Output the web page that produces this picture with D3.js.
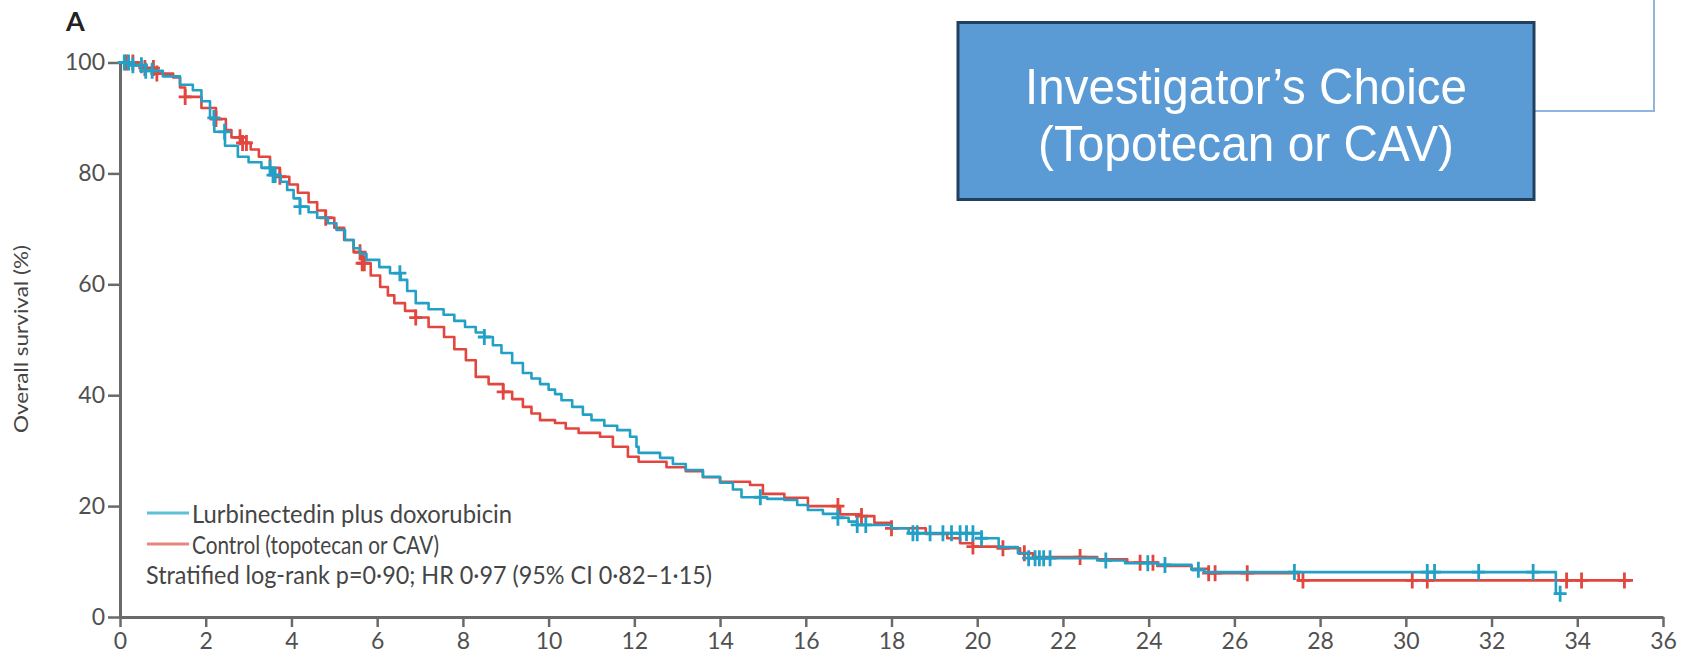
<!DOCTYPE html>
<html><head><meta charset="utf-8">
<script src="https://cdn.jsdelivr.net/npm/d3@7"></script>
<style>
html,body{margin:0;padding:0;background:#fff;}
svg{display:block;}
</style></head>
<body>
<svg id="chart" width="1683" height="659"></svg>
<script>
// ---- data ----
const xTicks = [0,2,4,6,8,10,12,14,16,18,20,22,24,26,28,30,32,34,36];
const yTicks = [0,20,40,60,80,100];

// [months, survival %]
const lurbiCurve = [[0,100],[0.3,99.5],[0.6,98.5],[1.0,97.5],[1.4,96],[1.7,95],[1.9,93],[2.1,90],[2.2,87.5],[2.45,85],[2.75,83],[3.0,82],[3.3,81],[3.55,79.7],[3.75,78.5],[3.9,77],[4.05,75.5],[4.2,74],[4.4,73],[4.6,72],[4.85,71],[5.05,69.8],[5.25,68],[5.45,66.5],[5.6,65.5],[5.75,64.4],[6.05,63.1],[6.3,62],[6.55,60.8],[6.7,58.8],[6.9,56.6],[7.2,55.5],[7.55,54.5],[7.8,53.4],[8.05,52.3],[8.3,51.3],[8.5,50.5],[8.7,49],[8.9,47.6],[9.15,45.8],[9.4,44],[9.6,43],[9.8,42],[10.0,41],[10.15,40.2],[10.3,39.1],[10.55,37.9],[10.8,36.5],[11.0,35.5],[11.3,34.5],[11.6,33.7],[11.9,32.5],[12.05,30.7],[12.1,29.6],[12.6,28.7],[12.9,27.6],[13.2,26.5],[13.6,25.3],[14.0,24.2],[14.3,23],[14.5,21.6],[15.1,21.3],[15.5,21.1],[15.8,20.2],[16.05,19.3],[16.4,18.6],[16.75,17.9],[17.0,17.2],[17.2,16.6],[18.0,16],[18.4,15.1],[20.1,14.2],[20.5,12.6],[20.95,11.5],[21.2,10.6],[22.8,10.2],[23.45,9.7],[24.2,9.4],[25.0,8.5],[25.3,8.1],[33.5,4.2],[33.65,4.2]];
const controlCurve = [[0,100],[0.5,99],[0.86,98],[1.24,97.3],[1.4,95.5],[1.52,93.8],[1.9,91.8],[2.24,89.8],[2.47,87.8],[2.6,86.5],[2.86,85.5],[3.05,84.3],[3.24,83],[3.5,81],[3.73,79.4],[3.95,78],[4.15,76.5],[4.4,74.8],[4.6,73.3],[4.8,72],[5.0,70.2],[5.23,68],[5.45,65.8],[5.65,63.8],[5.85,61.6],[6.07,59.5],[6.25,58],[6.4,56.6],[6.65,55.2],[6.9,54],[7.2,52.3],[7.56,50.5],[7.8,48.3],[8.07,46.3],[8.3,43.3],[8.6,42],[8.94,40.6],[9.15,39.3],[9.4,37.9],[9.6,36.7],[9.8,35.5],[10.15,35],[10.4,34],[10.7,33.2],[11.2,32.5],[11.5,30.7],[11.85,28.9],[12.1,28],[12.75,27],[13.2,26.3],[13.6,25.2],[14.0,24.4],[14.7,23.8],[15.0,22.2],[15.5,21.5],[16.05,20.0],[16.8,18.5],[17.3,18.2],[17.6,17],[18.0,16],[18.8,15],[19.3,14.2],[19.6,13.3],[19.9,12.7],[20.6,12.4],[21.0,11.5],[21.3,10.8],[22.8,10.4],[23.5,9.8],[24.2,9.2],[25.0,8.7],[25.4,7.9],[27.5,6.6],[35.3,6.6]];

// censoring times (months)
const lurbiCensor = [0.1,0.2,0.3,0.5,0.6,0.75,2.19,2.44,3.5,3.57,3.62,4.2,6.53,8.5,14.94,16.75,17.2,17.4,18.5,18.6,18.9,19.2,19.4,19.6,19.75,19.9,20.1,21.2,21.35,21.45,21.55,21.7,23.0,23.98,24.38,25.16,27.4,30.5,30.67,31.7,32.97,33.6];
const controlCensor = [0.15,0.3,0.58,0.78,0.86,1.52,2.24,2.8,2.86,2.95,3.73,4.8,5.6,5.65,5.7,6.9,8.94,16.75,17.3,18.0,19.9,20.6,21.1,22.4,23.8,24.1,25.4,25.55,26.3,27.6,30.15,30.5,33.75,34.1,35.1];

const seriesNames = ["Lurbinectedin plus doxorubicin","Control (topotecan or CAV)"];
const statText = "Stratified log-rank p=0·90; HR 0·97 (95% CI 0·82–1·15)";
const boxLines = ["Investigator’s Choice","(Topotecan or CAV)"];

// ---- drawing ----
const svg = d3.select("#chart");
const x = d3.scaleLinear().domain([0,36]).range([120,1663]);
const y = d3.scaleLinear().domain([0,100]).range([617,62.5]);

const blue = "#22a0c6", red = "#e2463e";
const axisCol = "#6a6a6a", txtCol = "#454545";
const FONT = "Lato, 'Open Sans', sans-serif";

// axes
const gx = svg.append("g").attr("transform",`translate(0,${y(0)})`)
  .call(d3.axisBottom(x).tickValues(xTicks).tickSize(10).tickSizeOuter(0).tickPadding(6));
const gy = svg.append("g").attr("transform",`translate(${x(0)},0)`)
  .call(d3.axisLeft(y).tickValues(yTicks).tickSize(12).tickSizeOuter(0).tickPadding(3));
[gx,gy].forEach(g=>{
  g.select(".domain").attr("stroke",axisCol).attr("stroke-width",3);
  g.selectAll(".tick line").attr("stroke",axisCol).attr("stroke-width",2.5);
  g.selectAll(".tick text").attr("fill","#505050").style("font-family",FONT).style("font-size","23px");
});

// curves
const line = d3.line().x(d=>x(d[0])).y(d=>y(d[1])).curve(d3.curveStepAfter);
function survAt(curve,t){
  const i = d3.bisectRight(curve.map(d=>d[0]), t) - 1;
  return curve[Math.max(0,i)][1];
}
function drawSeries(curve, censor, col){
  svg.append("path").datum(curve).attr("d",line)
    .attr("fill","none").attr("stroke",col).attr("stroke-width",2.6).attr("stroke-linejoin","round");
  svg.append("g").selectAll("path").data(censor).join("path")
    .attr("d",t=>{const cx=x(t), cy=y(survAt(curve,t)); return `M${cx-6.5},${cy}H${cx+6.5}M${cx},${cy-8}V${cy+8}`;})
    .attr("stroke",col).attr("stroke-width",2.8).attr("fill","none");
}
drawSeries(controlCurve, controlCensor, red);
drawSeries(lurbiCurve, lurbiCensor, blue);

// legend
const legendCols = ["#5fc1d8","#e8857f"];
const legendY = [513,544];
const legendW = [320,247];
seriesNames.forEach((n,i)=>{
  svg.append("line").attr("x1",147).attr("x2",189).attr("y1",legendY[i]).attr("y2",legendY[i])
    .attr("stroke",legendCols[i]).attr("stroke-width",3);
  svg.append("text").attr("x",192).attr("y",legendY[i]+9.5).text(n)
    .attr("fill",txtCol).style("font-family",FONT).style("font-size","25px")
    .attr("textLength",legendW[i]).attr("lengthAdjust","spacingAndGlyphs");
});
svg.append("text").attr("x",146).attr("y",584).text(statText)
  .attr("fill",txtCol).style("font-family",FONT).style("font-size","25px")
  .attr("textLength",566).attr("lengthAdjust","spacingAndGlyphs");

// y-axis title
svg.append("text").attr("transform","translate(28,339) rotate(-90)").attr("text-anchor","middle")
  .text("Overall survival (%)").attr("fill",txtCol).style("font-family",FONT).style("font-size","20px")
  .attr("textLength",188).attr("lengthAdjust","spacingAndGlyphs");

// panel letter
svg.append("text").attr("x",66).attr("y",31).text("A").attr("fill","#222")
  .style("font-family",FONT).style("font-weight","bold").style("font-size","27px");

// overlay box
svg.append("path").attr("d","M1535,111H1654V0").attr("fill","none").attr("stroke","#8fb6e3").attr("stroke-width",2);
svg.append("rect").attr("x",958).attr("y",22.5).attr("width",576).attr("height",177)
  .attr("fill","#5b9bd5").attr("stroke","#22405f").attr("stroke-width",3);
const boxBase = [104,161], boxW = [442,416];
boxLines.forEach((s,i)=>{
  svg.append("text").attr("x",1246).attr("y",boxBase[i]).attr("text-anchor","middle").text(s)
    .attr("fill","#fff").style("font-family","'Liberation Sans', Arial, sans-serif").style("font-size","50px")
    .attr("textLength",boxW[i]).attr("lengthAdjust","spacingAndGlyphs");
});
</script>
</body></html>
